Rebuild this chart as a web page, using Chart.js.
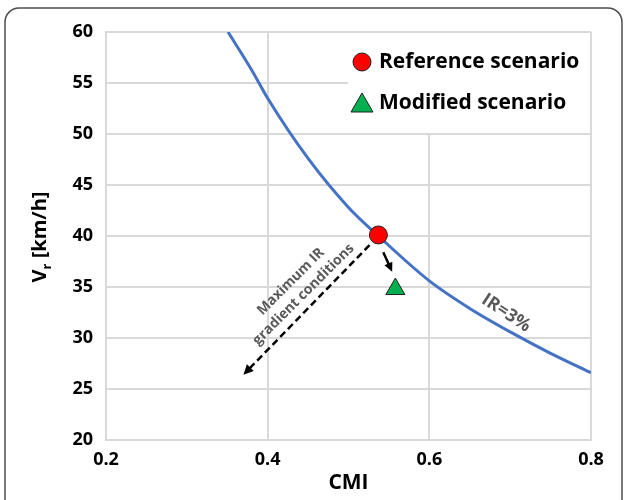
<!DOCTYPE html>
<html>
<head>
<meta charset="utf-8">
<script src="https://cdn.jsdelivr.net/npm/chart.js@4.4.0/dist/chart.umd.min.js"></script>
<style>
  body { margin: 0; background: #fff; }
  #wrap { width: 624px; height: 500px; }
</style>
</head>
<body>
<div id="wrap"><canvas id="chart" width="624" height="500"></canvas></div>
<script>
// values
const curveCMI = [0.351, 0.38, 0.4, 0.45, 0.5, 0.537, 0.6, 0.65, 0.7, 0.75, 0.8];
const curveVr  = [60, 56.3, 53.5, 47.6, 42.8, 40.0, 35.6, 32.9, 30.6, 28.5, 26.6];
const referencePoint = [0.537, 40.1];
const modifiedPoint = [0.558, 34.8];
const xTicks = [0.2, 0.4, 0.6, 0.8];
const yTicks = [20, 25, 30, 35, 40, 45, 50, 55, 60];
const seriesNames = ["Reference scenario", "Modified scenario"];

// arrows in data units: [x1, y1, x2, y2]
const dashedArrow = [0.526, 39.1, 0.37, 26.4];
const smallArrow = [0.543, 38.4, 0.554, 36.5];

const FONT = "'Open Sans', sans-serif";
const GRID = "#d9d9d9";
const GREY_TEXT = "#595959";

function drawArrow(ctx, x1, y1, x2, y2, dashed, width, head) {
    const ang = Math.atan2(y2 - y1, x2 - x1);
    ctx.save();
    ctx.strokeStyle = "#000";
    ctx.fillStyle = "#000";
    ctx.lineWidth = width;
    if (dashed) ctx.setLineDash([7, 4]);
    ctx.beginPath();
    ctx.moveTo(x1, y1);
    ctx.lineTo(x2 - Math.cos(ang) * head * 0.7, y2 - Math.sin(ang) * head * 0.7);
    ctx.stroke();
    ctx.setLineDash([]);
    ctx.beginPath();
    ctx.moveTo(x2, y2);
    ctx.lineTo(x2 - head * Math.cos(ang - 0.45), y2 - head * Math.sin(ang - 0.45));
    ctx.lineTo(x2 - head * Math.cos(ang + 0.45), y2 - head * Math.sin(ang + 0.45));
    ctx.closePath();
    ctx.fill();
    ctx.restore();
}

const extras = {
    id: "extras",
    beforeDraw(chart) {
        const ctx = chart.ctx;
        ctx.save();
        ctx.fillStyle = "#fff";
        ctx.fillRect(0, 0, chart.width, chart.height);
        // rounded frame round the figure
        ctx.strokeStyle = "#4d4d4d";
        ctx.lineWidth = 1.5;
        ctx.beginPath();
        ctx.roundRect(5, 8, 617, 520, 14);
        ctx.stroke();
        ctx.restore();
    },
    beforeDatasetsDraw(chart) {
        const ctx = chart.ctx;
        const area = chart.chartArea;
        // legend box hides the grid beneath it
        ctx.save();
        ctx.fillStyle = "#fff";
        ctx.fillRect(area.right - 243, area.top + 1, 242, 100);

        ctx.font = "bold 21px " + FONT;
        ctx.fillStyle = "#000";
        ctx.textBaseline = "middle";
        ctx.fillText(seriesNames[0], area.right - 212, area.top + 30);
        ctx.fillText(seriesNames[1], area.right - 212, area.top + 71);

        ctx.lineWidth = 1;
        ctx.strokeStyle = "#222";
        ctx.fillStyle = "#ff0000";
        ctx.beginPath();
        ctx.arc(area.right - 229, area.top + 30, 9, 0, Math.PI * 2);
        ctx.fill();
        ctx.stroke();

        ctx.fillStyle = "#00b050";
        ctx.beginPath();
        ctx.moveTo(area.right - 229, area.top + 61);
        ctx.lineTo(area.right - 218, area.top + 80);
        ctx.lineTo(area.right - 240, area.top + 80);
        ctx.closePath();
        ctx.fill();
        ctx.stroke();
        ctx.restore();
    },
    afterDatasetsDraw(chart) {
        const ctx = chart.ctx;
        const xs = chart.scales.x, ys = chart.scales.y;
        const px = v => xs.getPixelForValue(v);
        const py = v => ys.getPixelForValue(v);

        drawArrow(ctx, px(dashedArrow[0]), py(dashedArrow[1]), px(dashedArrow[2]), py(dashedArrow[3]), true, 2.5, 11);
        drawArrow(ctx, px(smallArrow[0]), py(smallArrow[1]), px(smallArrow[2]), py(smallArrow[3]), false, 2.5, 10);

        ctx.save();
        ctx.fillStyle = GREY_TEXT;
        ctx.textAlign = "center";
        ctx.textBaseline = "middle";
        ctx.font = "bold 14px " + FONT;
        ctx.translate(px(0.4365), py(34.9));
        ctx.rotate(-Math.PI / 4);
        ctx.fillText("Maximum IR", 0, -9);
        ctx.fillText("gradient conditions", 0, 9);
        ctx.restore();

        ctx.save();
        ctx.fillStyle = GREY_TEXT;
        ctx.textAlign = "center";
        ctx.textBaseline = "middle";
        ctx.font = "bold 18px " + FONT;
        ctx.translate(px(0.695), py(32.45));
        ctx.rotate(0.58);
        ctx.fillText("IR=3%", 0, 0);
        ctx.restore();

        // y axis title with subscript
        ctx.save();
        ctx.fillStyle = "#000";
        ctx.translate(40, 237);
        ctx.rotate(-Math.PI / 2);
        ctx.textBaseline = "middle";
        ctx.font = "bold 20px " + FONT;
        const wV = ctx.measureText("V").width;
        ctx.font = "bold 13px " + FONT;
        const wr = ctx.measureText("r").width;
        ctx.font = "bold 20px " + FONT;
        const wRest = ctx.measureText(" [km/h]").width;
        let x0 = -(wV + wr + wRest) / 2;
        ctx.fillText("V", x0, 0);
        ctx.font = "bold 13px " + FONT;
        ctx.fillText("r", x0 + wV, 7);
        ctx.font = "bold 20px " + FONT;
        ctx.fillText(" [km/h]", x0 + wV + wr, 0);
        ctx.restore();
    }
};

const ctx = document.getElementById("chart").getContext("2d");
new Chart(ctx, {
    type: "scatter",
    data: {
        datasets: [
            {
                label: "IR=3%",
                data: curveCMI.map((x, i) => ({ x: x, y: curveVr[i] })),
                showLine: true,
                borderColor: "#4472c4",
                borderWidth: 3,
                pointRadius: 0,
                cubicInterpolationMode: "monotone",
                order: 3
            },
            {
                label: seriesNames[0],
                data: [{ x: referencePoint[0], y: referencePoint[1] }],
                pointStyle: "circle",
                pointRadius: 9,
                backgroundColor: "#ff0000",
                borderColor: "#222",
                borderWidth: 1,
                order: 1
            },
            {
                label: seriesNames[1],
                data: [{ x: modifiedPoint[0], y: modifiedPoint[1] }],
                pointStyle: "triangle",
                pointRadius: 11,
                backgroundColor: "#00b050",
                borderColor: "#222",
                borderWidth: 1,
                order: 2
            }
        ]
    },
    options: {
        responsive: false,
        animation: false,
        layout: { padding: { left: 0, right: 33, top: 32, bottom: 0 } },
        plugins: { legend: { display: false }, tooltip: { enabled: false } },
        scales: {
            x: {
                type: "linear",
                min: 0.2,
                max: 0.8,
                afterBuildTicks: s => { s.ticks = xTicks.map(v => ({ value: v })); },
                afterFit: s => { s.height = 60; },
                grid: { color: GRID, lineWidth: 2, drawTicks: false },
                border: { color: GRID, width: 2 },
                ticks: {
                    color: "#000",
                    font: { family: FONT, size: 18, weight: "bold" },
                    padding: 9,
                    callback: v => v.toFixed(1)
                },
                title: {
                    display: true,
                    text: "CMI",
                    color: "#000",
                    font: { family: FONT, size: 21, weight: "bold" },
                    padding: { top: 2 }
                }
            },
            y: {
                min: 20,
                max: 60,
                afterBuildTicks: s => { s.ticks = yTicks.map(v => ({ value: v })); },
                afterFit: s => { s.width = 106; },
                grid: { color: GRID, lineWidth: 2, drawTicks: false },
                border: { color: GRID, width: 2 },
                ticks: {
                    color: "#000",
                    font: { family: FONT, size: 18, weight: "bold" },
                    padding: 13
                }
            }
        }
    },
    plugins: [extras]
});
</script>
</body>
</html>
